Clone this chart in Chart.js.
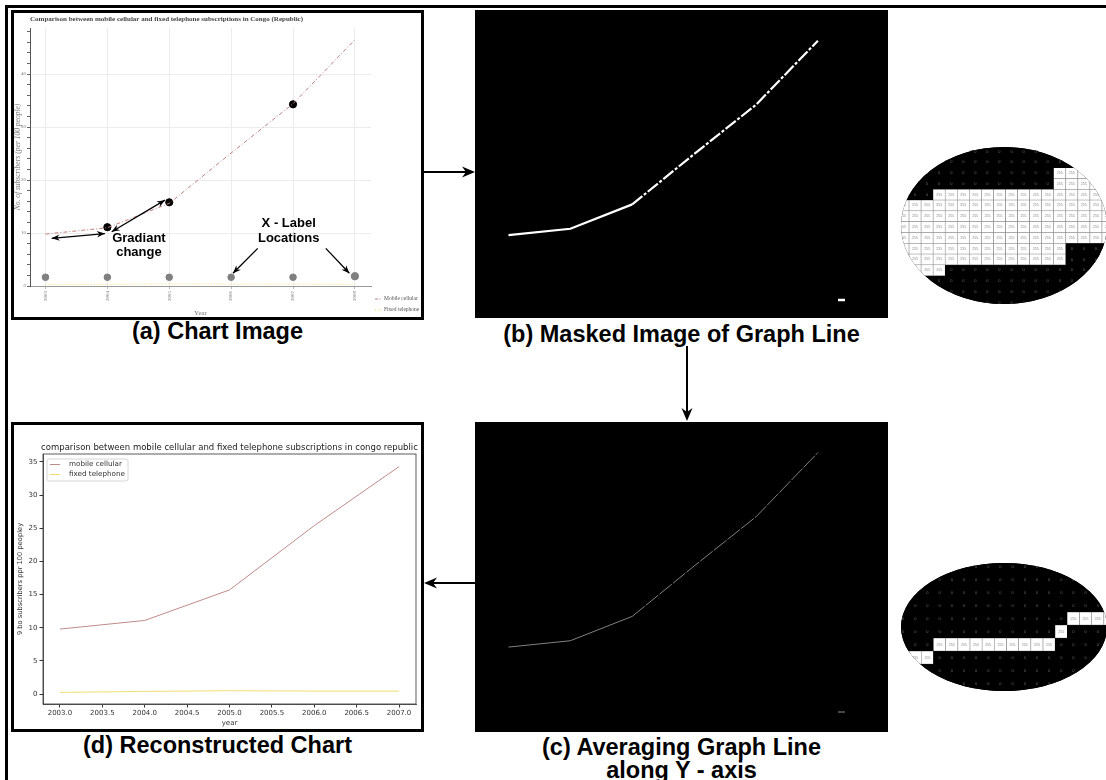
<!DOCTYPE html>
<html>
<head>
<meta charset="utf-8">
<script src="https://cdn.jsdelivr.net/npm/chart.js@4/dist/chart.umd.min.js"></script>
<style>
  html, body { margin: 0; padding: 0; }
  body { width: 1106px; height: 780px; position: relative; overflow: hidden; background: #fff; }
  .box { position: absolute; border: 3px solid #000; box-sizing: border-box; background: #fff; }
  .dark { position: absolute; background: #000; }
  .cap { position: absolute; font: bold 23.5px "Liberation Sans", Arial, sans-serif; text-align: center; color: #000; line-height: 23px; white-space: nowrap; }
  .oval { position: absolute; border-radius: 50%; overflow: hidden; background: #000; }
  canvas { position: absolute; }
  svg { position: absolute; left: 0; top: 0; }
</style>
</head>
<body>

<svg width="1106" height="780">
  <line x1="5" y1="6.5" x2="1106" y2="6.5" stroke="#000" stroke-width="3"/>
  <line x1="6.5" y1="5" x2="6.5" y2="780" stroke="#000" stroke-width="3"/>
  <!-- a -> b -->
  <line x1="424" y1="172" x2="468" y2="172" stroke="#000" stroke-width="2"/>
  <polygon points="475,172 462,166.5 466,172 462,177.5" fill="#000"/>
  <!-- b -> c -->
  <line x1="687" y1="346" x2="687" y2="414" stroke="#000" stroke-width="2"/>
  <polygon points="687,421 681.5,408 687,412 692.5,408" fill="#000"/>
  <!-- c -> d -->
  <line x1="475" y1="583" x2="431" y2="583" stroke="#000" stroke-width="2"/>
  <polygon points="424,583 437,577.5 433,583 437,588.5" fill="#000"/>
</svg>

<div class="box" style="left:11px;top:10px;width:413px;height:310px;"></div>
<canvas id="chartA" width="406" height="304" style="left:14px;top:13px;"></canvas>
<div class="cap" style="left:11px;top:320px;width:413px;">(a) Chart Image</div>

<div class="dark" style="left:475px;top:10px;width:413px;height:308px;"></div>
<canvas id="chartB" width="406" height="304" style="left:477px;top:14px;"></canvas>
<div class="cap" style="left:475px;top:323px;width:413px;">(b) Masked Image of Graph Line</div>

<div class="dark" style="left:475px;top:422px;width:413px;height:310px;"></div>
<canvas id="chartC" width="406" height="304" style="left:477px;top:426px;"></canvas>
<div class="cap" style="left:475px;top:736px;width:413px;">(c) Averaging Graph Line<br>along Y - axis</div>

<div class="box" style="left:11px;top:422px;width:413px;height:310px;"></div>
<canvas id="chartD" width="406" height="304" style="left:14px;top:425px;"></canvas>
<div class="cap" style="left:11px;top:734px;width:413px;">(d) Reconstructed Chart</div>

<div class="oval" style="left:901px;top:147px;width:206px;height:157px;">
  <canvas id="cellsTop" width="217" height="162" style="left:-3.7px;top:-1.3px;"></canvas>
</div>
<div class="oval" style="left:901px;top:563px;width:206px;height:128px;">
  <canvas id="cellsBottom" width="219" height="143" style="left:-3.8px;top:-2.8px;"></canvas>
</div>

<script>
// source chart (a)
const years = [2003, 2004, 2005, 2006, 2007, 2008];
const mobile = [9.8, 11.0, 15.6, 25.1, 34.4, 46.5];
const fixed = [0.25, 0.3, 0.4, 0.35, 0.35, 0.3];
const gradYears = [2004, 2005, 2007];
const gradValues = [11.1, 15.8, 34.3];
const labelDots = [1.65, 1.65, 1.65, 1.65, 1.65, 1.85];
const yTicksA = [0, 10, 20, 30, 40];

// reconstructed chart (d)
const dYears = [2003, 2004, 2005, 2006, 2007];
const dMobile = [9.8, 11.1, 15.7, 25.4, 34.3];
const dFixed = [0.25, 0.4, 0.5, 0.45, 0.45];
const xTicksD = [2003, 2003.5, 2004, 2004.5, 2005, 2005.5, 2006, 2006.5, 2007];
const yTicksD = [0, 5, 10, 15, 20, 25, 30, 35];

// pixel grids shown in the zoom ovals (1 = 255, 0 = 0)
const cellsTop = [
  '000000000000000000',
  '000000000000000000',
  '000000000000011111',
  '000000000000011111',
  '000111111111111111',
  '111111111111111111',
  '111111111111111111',
  '111111111111111111',
  '111111111111111111',
  '111111111111110000',
  '111111111111110000',
  '111100000000000000',
  '000000000000000000',
  '000000000000000000',
  '000000000000000000'
];
const cellsBottom = [
  '000000000000000000',
  '000000000000000000',
  '000000000000000000',
  '000000000000000000',
  '000000000000001111',
  '000000000000010000',
  '000111111111100000',
  '111000000000000000',
  '000000000000000000',
  '000000000000000000',
  '000000000000000000'
];

const titleA = 'Comparison between mobile cellular and fixed telephone subscriptions in Congo (Republic)';
const titleD = 'comparison between mobile cellular and fixed telephone subscriptions in congo republic';

const SERIF = '"Liberation Serif", "DejaVu Serif", serif';
const SANS = '"Liberation Sans", Arial, sans-serif';
const DEJA = '"DejaVu Sans", sans-serif';

const xy = (xs, ys) => xs.map((x, i) => ({ x: x, y: ys[i] }));
const base = { responsive: false, animation: false, events: [] };

// annotation arrows on (a), in data units
const notes = [
  [2003.10, 9.0, 2003.96, 9.9, true],
  [2004.07, 10.25, 2004.93, 16.2, true],
  [2006.43, 7.1, 2006.03, 2.4, false],
  [2007.53, 7.1, 2007.91, 2.4, false]
];
const noteText = [
  ['Gradiant', 2004.51, 9.0], ['change', 2004.51, 6.4],
  ['X - Label', 2006.93, 11.9], ['Locations', 2006.93, 8.9]
];

function head(ctx, x, y, fx, fy) {
  const a = Math.atan2(y - fy, x - fx), c = Math.cos(a), s = Math.sin(a);
  ctx.beginPath();
  ctx.moveTo(x, y);
  ctx.lineTo(x - 8 * c + 3.2 * s, y - 8 * s - 3.2 * c);
  ctx.lineTo(x - 5.5 * c, y - 5.5 * s);
  ctx.lineTo(x - 8 * c - 3.2 * s, y - 8 * s + 3.2 * c);
  ctx.closePath();
  ctx.fill();
}

// legend samples that sit under the x axis on the right
function legendA(chart, items) {
  const { ctx, chartArea: a } = chart;
  items.forEach((it, i) => {
    const yy = a.bottom + 13 + i * 11;
    ctx.strokeStyle = it.color;
    ctx.lineWidth = it.width || 1;
    ctx.setLineDash(it.dash || []);
    ctx.beginPath();
    ctx.moveTo(a.right + 4, yy);
    ctx.lineTo(a.right + 11, yy);
    ctx.stroke();
    ctx.setLineDash([]);
    if (it.text) {
      ctx.fillStyle = '#555';
      ctx.font = '5.5px ' + SERIF;
      ctx.textAlign = 'left';
      ctx.textBaseline = 'middle';
      ctx.fillText(it.text, a.right + 13, yy);
    }
  });
}

const panelA = {
  id: 'panelA',
  afterDraw(chart) {
    const { ctx, chartArea: a, scales: { x, y } } = chart;
    ctx.save();
    ctx.fillStyle = '#444';
    ctx.font = 'bold 7px ' + SERIF;
    ctx.textAlign = 'left';
    ctx.textBaseline = 'middle';
    ctx.fillText(titleA, a.left, 6);

    legendA(chart, [
      { color: '#c47f7f', dash: [3, 1.5, 1, 1.5], text: 'Mobile cellular' },
      { color: '#eedb6a', dash: [1, 1.5], text: 'Fixed telephone' }
    ]);

    ctx.strokeStyle = '#000';
    ctx.fillStyle = '#000';
    ctx.lineWidth = 1.3;
    notes.forEach(n => {
      const x1 = x.getPixelForValue(n[0]), y1 = y.getPixelForValue(n[1]);
      const x2 = x.getPixelForValue(n[2]), y2 = y.getPixelForValue(n[3]);
      ctx.beginPath();
      ctx.moveTo(x1, y1);
      ctx.lineTo(x2, y2);
      ctx.stroke();
      head(ctx, x2, y2, x1, y1);
      if (n[4]) head(ctx, x1, y1, x2, y2);
    });
    ctx.font = 'bold 13px ' + SANS;
    ctx.textAlign = 'center';
    noteText.forEach(t => ctx.fillText(t[0], x.getPixelForValue(t[1]), y.getPixelForValue(t[2])));
    ctx.restore();
  }
};

const xMinA = 2002.75, xMaxA = 2008.26, yMaxA = 48.7;
const padA = { top: 15, right: 49, left: 0, bottom: 0 };

new Chart(document.getElementById('chartA'), {
  type: 'line',
  data: {
    datasets: [
      { label: 'Mobile cellular', data: xy(years, mobile), borderColor: '#c47f7f', borderWidth: 1,
        borderDash: [4, 2, 1, 2], pointRadius: 0 },
      { label: 'Fixed telephone', data: xy(years, fixed), borderColor: '#eedb6a', borderWidth: 1,
        borderDash: [1, 2], pointRadius: 0 },
      { label: 'gradient', data: xy(gradYears, gradValues), showLine: false, pointRadius: 3.6,
        backgroundColor: '#000', borderColor: '#000' },
      { label: 'x labels', data: xy(years, labelDots), showLine: false,
        pointRadius: c => c.dataIndex === 5 ? 3.7 : 3.3, backgroundColor: '#808080', borderColor: '#808080' }
    ]
  },
  options: Object.assign({}, base, {
    layout: { padding: padA },
    plugins: { legend: { display: false }, tooltip: { enabled: false } },
    scales: {
      x: {
        type: 'linear', min: xMinA, max: xMaxA,
        afterBuildTicks: s => { s.ticks = years.map(v => ({ value: v })); },
        afterFit: s => { s.height = 31; },
        ticks: { minRotation: 90, maxRotation: 90, padding: 2, color: '#777',
                 font: { family: SERIF, size: 5 }, callback: v => String(v) },
        grid: { color: '#ececec', tickColor: '#bbb', tickLength: 3 },
        border: { color: '#999' },
        title: { display: true, text: 'Year', color: '#777', padding: 0, font: { family: SERIF, size: 7 } }
      },
      y: {
        min: 0, max: yMaxA,
        afterBuildTicks: s => {
          const t = [];
          for (let v = 0; v <= 48; v += 2) t.push({ value: v });
          s.ticks = t;
        },
        afterFit: s => { s.width = 16; },
        ticks: { padding: 1, color: '#777', font: { family: SERIF, size: 5 },
                 callback: v => yTicksA.includes(v) ? String(v) : '' },
        grid: { color: c => (c.tick && yTicksA.includes(c.tick.value) && c.tick.value > 0) ? '#ececec' : 'rgba(0,0,0,0)',
                tickColor: '#666', tickLength: 3 },
        border: { color: '#555' },
        title: { display: true, text: 'No. of subscribers (per 100 people)', color: '#777', padding: 0,
                 font: { family: SERIF, size: 7.5, style: 'italic' } }
      }
    }
  }),
  plugins: [panelA]
});

// masked (b) and averaged (c) views share the layout of (a)
function maskChart(id, line, sample) {
  new Chart(document.getElementById(id), {
    type: 'line',
    data: { datasets: [Object.assign({ data: xy(years, mobile), pointRadius: 0 }, line)] },
    options: Object.assign({}, base, {
      layout: { padding: { top: 15, right: 49, left: 16, bottom: 31 } },
      plugins: { legend: { display: false }, tooltip: { enabled: false } },
      scales: {
        x: { type: 'linear', min: xMinA, max: xMaxA, display: false },
        y: { min: 0, max: yMaxA, display: false }
      }
    }),
    plugins: [{ id: 'sample', afterDraw: c => { c.ctx.save(); legendA(c, [sample]); c.ctx.restore(); } }]
  });
}

maskChart('chartB',
  { borderColor: '#fff', borderWidth: 2.2,
    segment: { borderDash: c => c.p0.parsed.x >= 2005 ? [13, 2, 3, 2] : undefined } },
  { color: '#fff', width: 2.5 });
maskChart('chartC',
  { borderColor: '#8f8f8f', borderWidth: 0.9,
    segment: { borderDash: c => c.p0.parsed.x >= 2005 ? [16, 1.5] : undefined } },
  { color: '#8f8f8f', width: 1 });

// reconstructed chart (d)
const panelD = {
  id: 'panelD',
  afterDraw(chart) {
    const { ctx, chartArea: a } = chart;
    ctx.save();
    ctx.strokeStyle = '#333';
    ctx.lineWidth = 0.8;
    ctx.strokeRect(a.left, a.top, a.right - a.left, a.bottom - a.top);

    ctx.fillStyle = '#222';
    ctx.font = '8.5px ' + DEJA;
    ctx.textAlign = 'center';
    ctx.textBaseline = 'middle';
    ctx.fillText(titleD, (a.left + a.right) / 2, a.top - 6);

    const lx = a.left + 4, ly = a.top + 5;
    ctx.fillStyle = 'rgba(255,255,255,0.85)';
    ctx.strokeStyle = '#ccc';
    ctx.lineWidth = 0.8;
    ctx.beginPath();
    ctx.roundRect(lx, ly, 81, 22, 2);
    ctx.fill();
    ctx.stroke();
    chart.data.datasets.forEach((ds, i) => {
      const yy = ly + 5.5 + i * 10;
      ctx.strokeStyle = ds.borderColor;
      ctx.lineWidth = 1;
      ctx.beginPath();
      ctx.moveTo(lx + 3, yy);
      ctx.lineTo(lx + 13, yy);
      ctx.stroke();
      ctx.fillStyle = '#333';
      ctx.font = '7.2px ' + DEJA;
      ctx.textAlign = 'left';
      ctx.fillText(ds.label, lx + 22, yy);
    });
    ctx.restore();
  }
};

new Chart(document.getElementById('chartD'), {
  type: 'line',
  data: {
    datasets: [
      { label: 'mobile cellular', data: xy(dYears, dMobile), borderColor: '#bf8a8a', borderWidth: 1, pointRadius: 0 },
      { label: 'fixed telephone', data: xy(dYears, dFixed), borderColor: '#f2dc74', borderWidth: 1, pointRadius: 0 }
    ]
  },
  options: Object.assign({}, base, {
    layout: { padding: { top: 29, right: 4, left: 0, bottom: 0 } },
    plugins: { legend: { display: false }, tooltip: { enabled: false } },
    scales: {
      x: {
        type: 'linear', min: 2002.8, max: 2007.2,
        afterBuildTicks: s => { s.ticks = xTicksD.map(v => ({ value: v })); },
        afterFit: s => { s.height = 25; },
        ticks: { padding: 1, color: '#333', maxRotation: 0, font: { family: DEJA, size: 7 },
                 callback: v => v.toFixed(1) },
        grid: { drawOnChartArea: false, color: '#333', tickLength: 3.5 },
        border: { color: '#333', width: 0.8 },
        title: { display: true, text: 'year', color: '#333', padding: { top: 0, bottom: 2 },
                 font: { family: DEJA, size: 7 } }
      },
      y: {
        min: -1.5, max: 36.2,
        afterBuildTicks: s => { s.ticks = yTicksD.map(v => ({ value: v })); },
        afterFit: s => { s.width = 29; },
        ticks: { padding: 2, color: '#333', font: { family: DEJA, size: 7 } },
        grid: { drawOnChartArea: false, color: '#333', tickLength: 3.5 },
        border: { color: '#333', width: 0.8 },
        title: { display: true, text: '9 bo subscribers ppr 100 peopley', color: '#333',
                 padding: { top: 2.5, bottom: 0 }, font: { family: DEJA, size: 6.7 } }
      }
    }
  }),
  plugins: [panelD]
});

// pixel value grids, one floating bar per cell
const cellText = {
  id: 'cellText',
  afterDatasetsDraw(chart) {
    const ctx = chart.ctx;
    ctx.save();
    ctx.textAlign = 'center';
    ctx.textBaseline = 'middle';
    chart.data.datasets.forEach((ds, i) => {
      chart.getDatasetMeta(i).data.forEach((el, j) => {
        const on = ds.cells[j] === '1';
        ctx.fillStyle = on ? '#8a8a8a' : '#6a6a6a';
        ctx.font = (on ? 3.6 : 4) + 'px ' + SANS;
        ctx.fillText(on ? '255' : '0', el.x, (el.y + el.base) / 2);
      });
    });
    ctx.restore();
  }
};

function cellChart(id, rows) {
  new Chart(document.getElementById(id), {
    type: 'bar',
    data: {
      labels: rows[0].split('').map((_, k) => k),
      datasets: rows.map((r, j) => ({
        cells: r.split(''),
        data: r.split('').map(() => [j, j + 1]),
        backgroundColor: r.split('').map(c => c === '1' ? '#fff' : '#000'),
        borderColor: r.split('').map(c => c === '1' ? '#8c8c8c' : '#000'),
        borderWidth: 0.6,
        borderSkipped: false,
        barPercentage: 1,
        categoryPercentage: 1,
        grouped: false
      }))
    },
    options: Object.assign({}, base, {
      layout: { padding: 0 },
      plugins: { legend: { display: false }, tooltip: { enabled: false } },
      scales: {
        x: { display: false },
        y: { display: false, min: 0, max: rows.length, reverse: true }
      }
    }),
    plugins: [cellText]
  });
}

cellChart('cellsTop', cellsTop);
cellChart('cellsBottom', cellsBottom);
</script>
</body>
</html>
